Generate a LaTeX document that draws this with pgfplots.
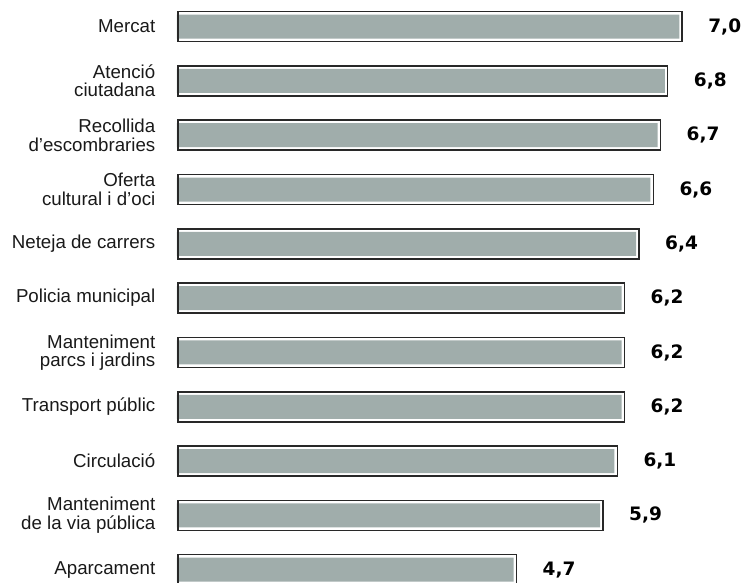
\documentclass[border=0pt]{standalone}
\usepackage{fontspec}
\setmainfont{Liberation Sans}
\newfontfamily\valfont{DejaVu Sans}
\usepackage{pgfplots}
\pgfplotsset{compat=1.18}
\definecolor{barfill}{RGB}{160,173,171}
\definecolor{barline}{RGB}{40,40,40}
\begin{document}
\begin{tikzpicture}
\useasboundingbox (0pt,0pt) rectangle (742pt,583pt);
\clip (0pt,0pt) rectangle (742pt,583pt);
\begin{axis}[
  at={(177pt,583.5pt)}, anchor=north west,
  scale only axis, width=591.5pt, height=597.3pt,
  xmin=-0.015, xmax=8.2, ymin=-0.5, ymax=10.5, y dir=reverse,
  axis line style={draw=none}, xtick=\empty, ytick={0,...,10}, major tick length=0pt,
  yticklabels={Mercat,{Atenció\\ciutadana},{Recollida\\d’escombraries},{Oferta\\cultural i d’oci},Neteja de carrers,Policia municipal,{Manteniment\\parcs i jardins},Transport públic,Circulació,{Manteniment\\de la via pública},Aparcament},
  yticklabel style={align=right, font=\fontsize{18.7}{18.5}\selectfont, inner sep=0pt, xshift=-21.5pt, text=black!90},
  /pgf/number format/.cd, use comma, fixed, fixed zerofill, precision=1, assume math mode=true,
]
\addplot[xbar, bar shift=0pt, bar width=31pt, fill=white, draw=none] coordinates {
(7.0,0) (6.8,1) (6.7,2) (6.6,3) (6.4,4) (6.2,5) (6.2,6) (6.2,7) (6.1,8) (5.9,9) (4.7,10)};
\addplot[xbar, bar shift=0pt, bar width=24pt, fill=barfill, draw=none, xshift=-2.8pt] coordinates {
(7.0,0) (6.8,1) (6.7,2) (6.6,3) (6.4,4) (6.2,5) (6.2,6) (6.2,7) (6.1,8) (5.9,9) (4.7,10)};
\addplot[xbar, bar shift=0pt, bar width=30pt, fill=none, draw=barline, line width=1.5pt,
  nodes near coords, nodes near coords style={anchor=west, xshift=25.5pt, inner sep=0pt, text=black, font=\valfont\fontsize{18.5}{20}\selectfont\bfseries}] coordinates {
(7.0,0) (6.8,1) (6.7,2) (6.6,3) (6.4,4) (6.2,5) (6.2,6) (6.2,7) (6.1,8) (5.9,9) (4.7,10)};
\end{axis}
\end{tikzpicture}
\end{document}
